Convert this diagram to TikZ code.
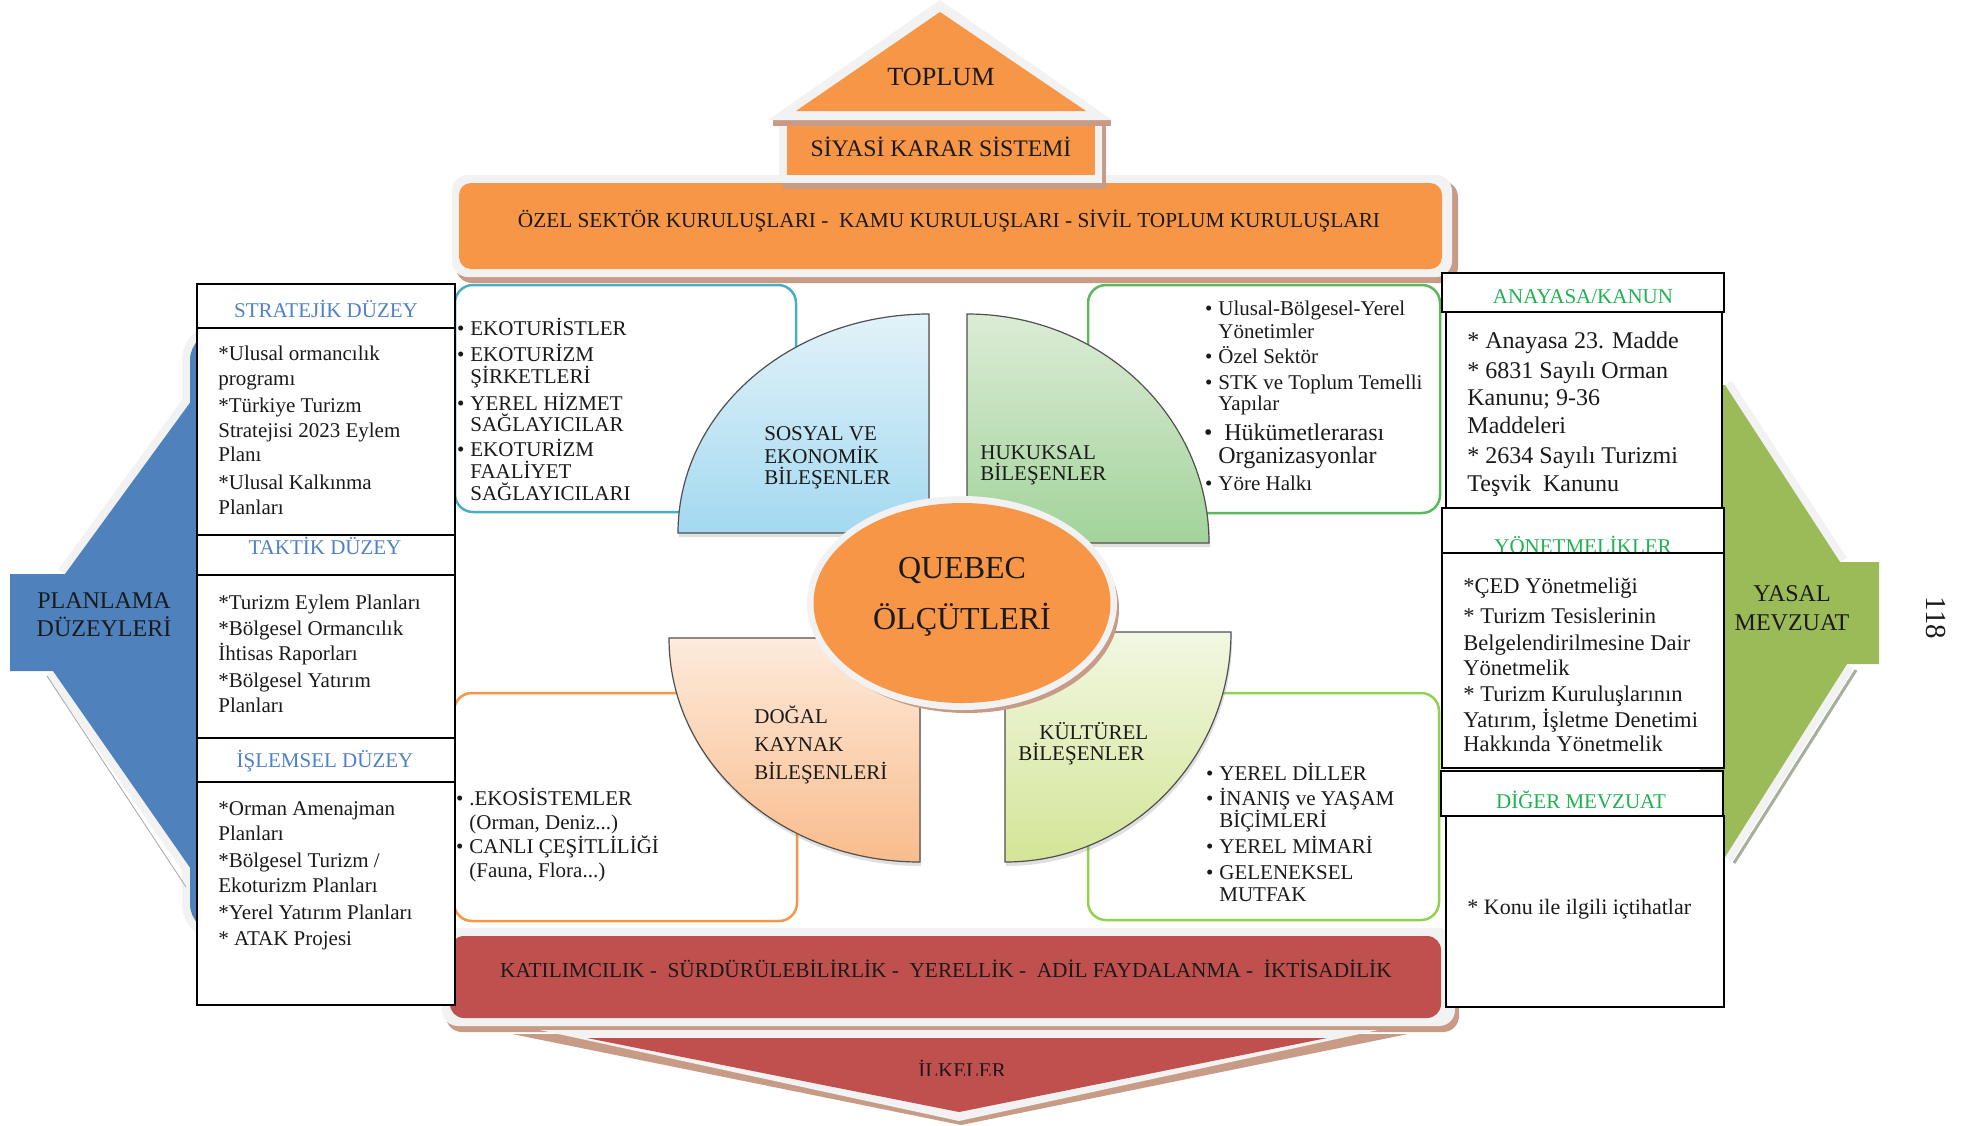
\documentclass[tikz,border=0pt]{standalone}
\usepackage{fontspec}
\setmainfont{Liberation Serif}
\usetikzlibrary{shapes.geometric,shadows}
\definecolor{ofOrange}{HTML}{F79646}
\definecolor{ofRed}{HTML}{C0504D}
\definecolor{ofBlue}{HTML}{4F81BD}
\definecolor{ofGreen}{HTML}{9BBB59}
\definecolor{rimW}{HTML}{F2F2F2}
\definecolor{shBrown}{RGB}{200,155,135}
\definecolor{hdBlue}{RGB}{79,129,200}
\definecolor{hdGreen}{RGB}{30,178,80}
\definecolor{bxCyan}{HTML}{4BACC6}
\definecolor{bxGreen}{RGB}{92,184,92}
\definecolor{bxLime}{HTML}{92D050}
\definecolor{txc}{HTML}{1A1A1A}
\definecolor{qEdge}{HTML}{505050}
\definecolor{sosTop}{HTML}{E2F2F9}
\definecolor{sosBot}{HTML}{A3D9F0}
\definecolor{hukTop}{HTML}{DCECD6}
\definecolor{hukBot}{HTML}{A2D39A}
\definecolor{dogTop}{HTML}{FDEBDC}
\definecolor{dogBot}{HTML}{F9BC8C}
\definecolor{kulTop}{HTML}{F2F7E2}
\definecolor{kulBot}{HTML}{D3E597}
\newcommand{\fsz}[1]{\fontsize{#1}{#1}\selectfont}
\newcommand{\bult}{\llap{\textbullet\hspace{3pt}}}
\newcounter{tln}
\newcommand{\txl}[4][]{\stepcounter{tln}\edef\tlnm{t\arabic{tln}}\node[tx,#1] (\tlnm) at (#2,#3) {#4};}
\begin{document}
\begin{tikzpicture}[x=0.5pt,y=-0.5pt,
  tx/.style={inner sep=0pt, anchor=base west, text=txc, font=\fsz{10.5}},
  tc/.style={anchor=base},
  tbl/.style={draw=black, line width=1.2pt, fill=white},
  lbox/.style={line width=1.25pt, rounded corners=9pt},
  quarter/.style={draw=qEdge, line width=0.6pt, drop shadow={shadow xshift=0.6pt, shadow yshift=-2pt, opacity=0.25}},
  rim/.style={fill=rimW, draw=rimW, line width=8pt, line join=round},
  rimline/.style={draw=rimW, line width=8pt}]
\useasboundingbox (0,0) rectangle (1964,1125);
\fill[white] (0,0) rectangle (1964,1125);

% ---------- left blue shape ----------
\path[rim, rounded corners=14pt] (190,332) rectangle (420,932);
\path[rimline] (200,389) -- (65,574);
\path[rimline] (53,671) -- (200,882);
\fill[ofBlue, rounded corners=14pt] (190,332) rectangle (420,932);
\fill[ofBlue] (200,389) -- (65,574) -- (10,574) -- (10,671) -- (53,671) -- (200,882) -- cycle;
\draw[gray!70, line width=0.4pt] (47,676) -- (186,887);

% ---------- right green shape ----------
\path[rimline] (1725,385) -- (1840,562);
\path[rimline] (1847,664) -- (1725,857);
\fill[ofGreen] (1700,385) -- (1725,385) -- (1840,562) -- (1879,562) -- (1879,664) -- (1847,664) -- (1725,857) -- (1700,857) -- cycle;
\draw[color={rgb,255:red,165;green,175;blue,155}, line width=1.5pt] (1856,670) -- (1734,863);

% ---------- list boxes ----------
\draw[lbox, bxCyan] (455,285) rectangle (796,512);
\draw[lbox, bxGreen] (1088,285) rectangle (1440,513);
\draw[lbox, ofOrange] (454,693) rectangle (797,921);
\draw[lbox, bxLime] (1088,693) rectangle (1439,920);

% ---------- top band ----------
\fill[shBrown, rounded corners=8pt] (456,181) rectangle (1458,283);
\fill[rimW, rounded corners=8pt] (452,175) rectangle (1452,277);
\fill[ofOrange, rounded corners=6pt] (459,183) rectangle (1442,269);

% ---------- SIYASI box and roof ----------
\fill[shBrown] (783,125) rectangle (1106,189);
\fill[rimW] (779,119) rectangle (1102,183);
\fill[ofOrange] (787,126) rectangle (1095,175);
\fill[shBrown] (773,119) rectangle (1111,126);
\fill[rimW] (768,120) -- (940,0) -- (1112,120) -- cycle;
\fill[ofOrange] (796,111) -- (940,12) -- (1086,111) -- cycle;

% ---------- bottom band and triangle ----------
\fill[shBrown, rounded corners=8pt] (446,934) rectangle (1459,1032);
\fill[rimW, rounded corners=8pt] (442,928) rectangle (1455,1026);
\fill[ofRed, rounded corners=7pt] (450,936) rectangle (1441,1018);
\fill[shBrown] (512,1034) -- (1408,1034) -- (961,1125) -- cycle;
\fill[rimW] (540,1030) -- (1378,1030) -- (959,1121) -- cycle;
\fill[ofRed] (587,1038) -- (1327,1038) -- (959,1112) -- cycle;

% ---------- quarter shapes ----------
\path[quarter, top color=sosTop, bottom color=sosBot] (929,533) -- (678,533) .. controls (678,412) and (790,314) .. (929,314) -- cycle;
\path[quarter, top color=hukTop, bottom color=hukBot] (967,543) -- (967,314) .. controls (1101,314) and (1209,417) .. (1209,543) -- cycle;
\path[quarter, top color=dogTop, bottom color=dogBot] (920,638) -- (669,638) .. controls (669,762) and (781,862) .. (920,862) -- cycle;
\path[quarter, top color=kulTop, bottom color=kulBot] (1005,632) -- (1231,632) .. controls (1231,759) and (1130,862) .. (1005,862) -- cycle;

% ---------- central ellipse ----------
\fill[shBrown] (967,609) ellipse [x radius=76pt, y radius=52pt];
\fill[rimW] (962,603) ellipse [x radius=77.5pt, y radius=53.5pt];
\node[ellipse, fill=ofOrange, minimum width=148.5pt, minimum height=100pt, inner sep=0pt] (quebec) at (962,603) {};

% ---------- left table ----------
\draw[tbl] (197,284) rectangle (455,1005);
\draw[line width=1.2pt] (197,328) -- (455,328);
\draw[line width=1.2pt] (197,535) -- (455,535);
\draw[line width=1.2pt] (197,575) -- (455,575);
\draw[line width=1.2pt] (197,738) -- (455,738);
\draw[line width=1.2pt] (197,782) -- (455,782);

% ---------- right table ----------
\draw[tbl] (1442,273) rectangle (1724,312);
\draw[tbl] (1446,312) rectangle (1722,508);
\draw[tbl] (1442,508) rectangle (1724,553);
\txl[tc,text=hdGreen]{1583}{553}{YÖNETMELİKLER}
\draw[tbl] (1442,553) rectangle (1724,768);
\draw[tbl] (1441,771) rectangle (1723,816);
\draw[tbl] (1446,816) rectangle (1724,1007);

% ---------- texts: roof, bands ----------
\txl[tc,font=\fsz{13.1}]{941}{85}{TOPLUM}
\txl[tc,font=\fsz{11.85}]{941}{156}{SİYASİ KARAR SİSTEMİ}
\txl[tc,font=\fsz{10.65}]{949}{227}{ÖZEL SEKTÖR KURULUŞLARI -\ \ KAMU KURULUŞLARI - SİVİL TOPLUM KURULUŞLARI}
\txl[tc,font=\fsz{10.65}]{946}{977}{KATILIMCILIK -\ \ SÜRDÜRÜLEBİLİRLİK -\ \ YERELLİK -\ \ ADİL FAYDALANMA -\ \ İKTİSADİLİK}
\begin{scope}
\clip (880,1040) rectangle (1050,1075);
\txl[tc]{962}{1077}{İLKELER}
\end{scope}

% ---------- side labels ----------
\txl[tc,font=\fsz{12}]{104}{608}{PLANLAMA}
\txl[tc,font=\fsz{12}]{104}{636}{DÜZEYLERİ}
\txl[tc,font=\fsz{12}]{1792}{601}{YASAL}
\txl[tc,font=\fsz{12}]{1792}{630}{MEVZUAT}
\node[inner sep=0pt, rotate=-90, text=txc, font=\fsz{14.5}] (page) at (1936,618) {118};

% ---------- left table texts ----------
\txl[tc,text=hdBlue]{326}{317}{STRATEJİK DÜZEY}
\txl{218}{360}{*Ulusal ormancılık}
\txl{218}{385}{programı}
\txl{218}{412}{*Türkiye Turizm}
\txl{218}{437}{Stratejisi 2023 Eylem}
\txl{218}{461}{Planı}
\txl{218}{489}{*Ulusal Kalkınma}
\txl{218}{514}{Planları}
\txl[tc,text=hdBlue]{325}{554}{TAKTİK DÜZEY}
\txl{218}{609}{*Turizm Eylem Planları}
\txl{218}{635}{*Bölgesel Ormancılık}
\txl{218}{660}{İhtisas Raporları}
\txl{218}{687}{*Bölgesel Yatırım}
\txl{218}{712}{Planları}
\txl[tc,text=hdBlue]{325}{767}{İŞLEMSEL DÜZEY}
\txl{218}{815}{*Orman Amenajman}
\txl{218}{840}{Planları}
\txl{218}{867}{*Bölgesel Turizm /}
\txl{218}{892}{Ekoturizm Planları}
\txl{218}{919}{*Yerel Yatırım Planları}
\txl{218}{945}{* ATAK Projesi}

% ---------- blue list ----------
\txl{470}{335}{\bult EKOTURİSTLER}
\txl{470}{361}{\bult EKOTURİZM}
\txl{470}{383}{ŞİRKETLERİ}
\txl{470}{410}{\bult YEREL HİZMET}
\txl{470}{431}{SAĞLAYICILAR}
\txl{470}{456}{\bult EKOTURİZM}
\txl{470}{478}{FAALİYET}
\txl{470}{500}{SAĞLAYICILARI}

% ---------- green list ----------
\txl{1218}{315}{\bult Ulusal-Bölgesel-Yerel}
\txl{1218}{338}{Yönetimler}
\txl{1218}{363}{\bult Özel Sektör}
\txl{1218}{389}{\bult STK ve Toplum Temelli}
\txl{1218}{410}{Yapılar}
\txl[font=\fsz{12}]{1218}{440}{\bult\ Hükümetlerarası}
\txl[font=\fsz{12}]{1218}{463}{Organizasyonlar}
\txl{1218}{490}{\bult Yöre Halkı}

% ---------- quarter labels ----------
\txl{764}{440}{SOSYAL VE}
\txl{764}{463}{EKONOMİK}
\txl{764}{484}{BİLEŞENLER}
\txl{980}{459}{HUKUKSAL}
\txl{980}{480}{BİLEŞENLER}
\txl{754}{723}{DOĞAL}
\txl{754}{751}{KAYNAK}
\txl{754}{779}{BİLEŞENLERİ}
\txl{1039}{739}{KÜLTÜREL}
\txl{1018}{760}{BİLEŞENLER}

% ---------- centre ----------
\txl[tc,font=\fsz{16}]{962}{578}{QUEBEC}
\txl[tc,font=\fsz{16}]{962}{629}{ÖLÇÜTLERİ}

% ---------- orange list ----------
\txl{469}{805}{\bult .EKOSİSTEMLER}
\txl{469}{829}{(Orman, Deniz...)}
\txl{469}{853}{\bult CANLI ÇEŞİTLİLİĞİ}
\txl{469}{877}{(Fauna, Flora...)}

% ---------- lime list ----------
\txl{1219}{780}{\bult YEREL DİLLER}
\txl{1219}{805}{\bult İNANIŞ ve YAŞAM}
\txl{1219}{827}{BİÇİMLERİ}
\txl{1219}{853}{\bult YEREL MİMARİ}
\txl{1219}{879}{\bult GELENEKSEL}
\txl{1219}{901}{MUTFAK}

% ---------- right table texts ----------
\txl[tc,text=hdGreen]{1583}{303}{ANAYASA/KANUN}
\txl[font=\fsz{12}]{1467}{348}{* Anayasa 23. Madde}
\txl[font=\fsz{12}]{1467}{378}{* 6831 Sayılı Orman}
\txl[font=\fsz{12}]{1467}{405}{Kanunu; 9-36}
\txl[font=\fsz{12}]{1467}{433}{Maddeleri}
\txl[font=\fsz{12}]{1467}{463}{* 2634 Sayılı Turizmi}
\txl[font=\fsz{12}]{1467}{491}{Teşvik\ \ Kanunu}
\txl[font=\fsz{11.25}]{1463}{593}{*ÇED Yönetmeliği}
\txl[font=\fsz{11.25}]{1463}{623}{* Turizm Tesislerinin}
\txl[font=\fsz{11.25}]{1463}{650}{Belgelendirilmesine Dair}
\txl[font=\fsz{11.25}]{1463}{675}{Yönetmelik}
\txl[font=\fsz{11.25}]{1463}{701}{* Turizm Kuruluşlarının}
\txl[font=\fsz{11.25}]{1463}{727}{Yatırım, İşletme Denetimi}
\txl[font=\fsz{11.25}]{1463}{751}{Hakkında Yönetmelik}
\txl[tc,text=hdGreen]{1581}{808}{DİĞER MEVZUAT}
\txl[font=\fsz{11}]{1467}{914}{* Konu ile ilgili içtihatlar}
\end{tikzpicture}
\end{document}
